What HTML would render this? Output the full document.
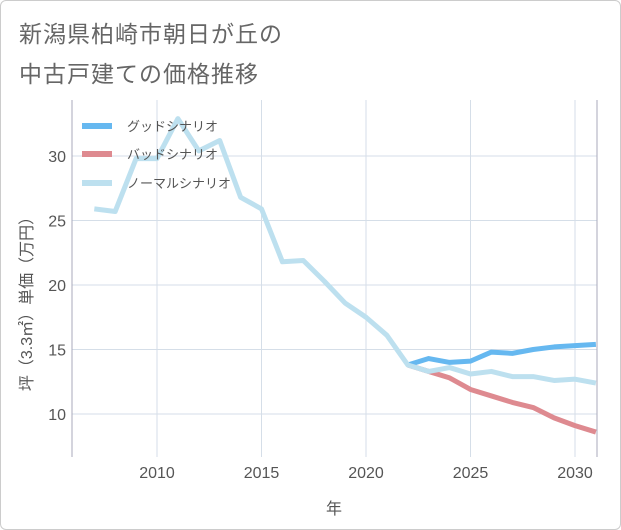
<!DOCTYPE html>
<html><head><meta charset="utf-8"><style>
body{margin:0;background:#fff;}
#wrap{position:relative;width:619px;height:528px;border:1px solid #ccc;border-radius:6px;overflow:hidden;font-family:"Liberation Sans","Noto Sans CJK JP",sans-serif;}
.t{position:absolute;left:18px;font-size:23px;color:#666;letter-spacing:1px;}
</style></head><body>
<div id="wrap">
<div class="t" style="top:14px">新潟県柏崎市朝日が丘の</div>
<div class="t" style="top:54px">中古戸建ての価格推移</div>
<svg id="c" width="621" height="530" style="position:absolute;left:-1px;top:-1px"></svg>
</div>
<script>
const years=[2007,2008,2009,2010,2011,2012,2013,2014,2015,2016,2017,2018,2019,2020,2021,2022,2023,2024,2025,2026,2027,2028,2029,2030,2031];
const normal=[25.9,25.7,29.8,29.8,32.9,30.4,31.2,26.8,25.9,21.8,21.9,20.3,18.6,17.5,16.1,13.8,13.3,13.6,13.1,13.3,12.9,12.9,12.6,12.7,12.4];
const futureYears=[2022,2023,2024,2025,2026,2027,2028,2029,2030,2031];
const good=[13.8,14.3,14.0,14.1,14.8,14.7,15.0,15.2,15.3,15.4];
const bad=[13.8,13.3,12.8,11.9,11.4,10.9,10.5,9.7,9.1,8.6];
const xTicks=[2010,2015,2020,2025,2030];
const yTicks=[10,15,20,25,30];
const L=72,R=597,T=100,B=457;
const X=y=>157+(y-2010)*20.9;
const Y=v=>414-(v-10)*12.9;
const svg=document.getElementById('c');
const NS='http://www.w3.org/2000/svg';
function mk(tag,a){const e=document.createElementNS(NS,tag);for(const k in a)e.setAttribute(k,a[k]);svg.appendChild(e);return e;}
xTicks.forEach(t=>{
 const l=mk('line',{x1:X(t),x2:X(t),y1:T,y2:B,stroke:'#d5dee8','stroke-width':1});
 
 
 const tx=mk('text',{x:X(t),y:478,'text-anchor':'middle','font-size':16,fill:'#555'});
 tx.textContent=t;
 
 
});
yTicks.forEach(t=>{
 const l=mk('line',{x1:L,x2:R,y1:Y(t),y2:Y(t),stroke:'#d5dee8','stroke-width':1});
 
 
 const tx=mk('text',{x:66,y:Y(t)+6,'text-anchor':'end','font-size':16,fill:'#555'});
 tx.textContent=t;
 
 
});
const ax=mk('path',{d:`M${L} ${T}V${B}M${R} ${T}V${B}`,stroke:'#aab',fill:'none','stroke-width':1});


function line(xs,vs,color,name){
 const p=mk('polyline',{points:xs.map((y,i)=>X(y)+','+Y(vs[i])).join(' '),fill:'none',stroke:color,'stroke-width':5,'stroke-linejoin':'round'});
 
 
}
line(futureYears,bad,'#de8a90','bad-scenario-line');
line(futureYears,good,'#66b8f0','good-scenario-line');
line(years,normal,'#bde0ef','normal-scenario-line');
const leg=[['グッドシナリオ','#66b8f0',126],['バッドシナリオ','#de8a90',154],['ノーマルシナリオ','#bde0ef',183]];
leg.forEach((g,i)=>{
 const l=mk('line',{x1:82,x2:112,y1:g[2],y2:g[2],stroke:g[1],'stroke-width':6});
 
 
 const t=mk('text',{x:127,y:g[2]+5,'font-size':13,fill:'#555'});
 t.textContent=g[0];
 
 
});
const xt=mk('text',{x:334,y:514,'text-anchor':'middle','font-size':16,fill:'#555'});
xt.textContent='年';


const yt=mk('text',{x:32,y:300,'text-anchor':'middle','font-size':16,fill:'#555',transform:'rotate(-90 32 300)'});
yt.textContent='坪（3.3㎡）単価（万円）';


</script>
</body></html>
